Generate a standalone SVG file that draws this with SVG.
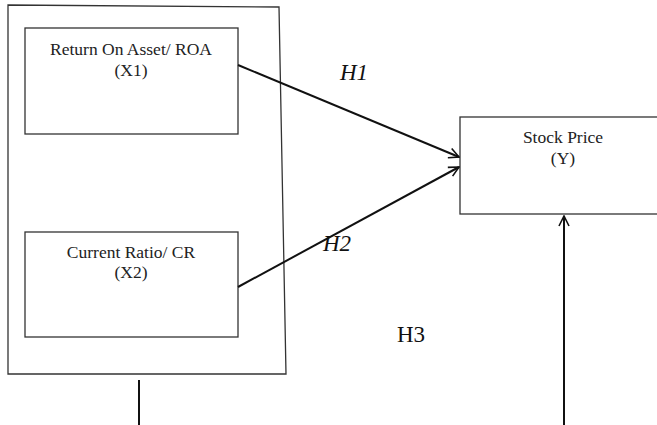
<svg xmlns="http://www.w3.org/2000/svg" width="657" height="425" viewBox="0 0 657 425">
<defs>
<marker id="open" viewBox="0 0 12 12" refX="11" refY="6" markerWidth="12" markerHeight="12" markerUnits="userSpaceOnUse" orient="auto">
<path d="M1,1 L11,6 L1,11" fill="none" stroke="#111" stroke-width="1.6"/>
</marker>
</defs>
<style>
.box{fill:#fff;stroke:#333;stroke-width:1.3}
.t{font-family:"Liberation Serif","DejaVu Serif",serif;font-size:17.5px;fill:#222;text-anchor:middle}
.h{font-family:"Liberation Serif","DejaVu Serif",serif;font-size:23px;fill:#111}
.c{stroke:#111;stroke-width:2;fill:none}
</style>
<rect width="657" height="425" fill="#fff"/>
<g id="frame"><polygon class="box" points="8,5 279,7 286,374 8,374"/></g>
<g id="roa"><rect class="box" x="25" y="28" width="213" height="106"/>
<text class="t" x="131" y="55">Return On Asset/ ROA</text>
<text class="t" x="131" y="76">(X1)</text></g>
<g id="cr"><rect class="box" x="25" y="232" width="213" height="105"/>
<text class="t" x="131" y="258">Current Ratio/ CR</text>
<text class="t" x="131" y="278">(X2)</text></g>
<g id="price"><rect class="box" x="460" y="117" width="210" height="97"/>
<text class="t" x="563" y="143">Stock Price</text>
<text class="t" x="563" y="164">(Y)</text></g>
<g id="connectors">
<line class="c" x1="238" y1="65" x2="459" y2="157" marker-end="url(#open)"/>
<line class="c" x1="238" y1="287" x2="459" y2="167" marker-end="url(#open)"/>
<line class="c" x1="564" y1="425" x2="564" y2="216" marker-end="url(#open)"/>
<line class="c" x1="139" y1="380" x2="139" y2="425"/>
</g>
<g id="labels">
<text class="h" x="340" y="80" font-style="italic">H1</text>
<text class="h" x="323" y="251" font-style="italic">H2</text>
<text class="h" x="397" y="342">H3</text>
</g>
</svg>
